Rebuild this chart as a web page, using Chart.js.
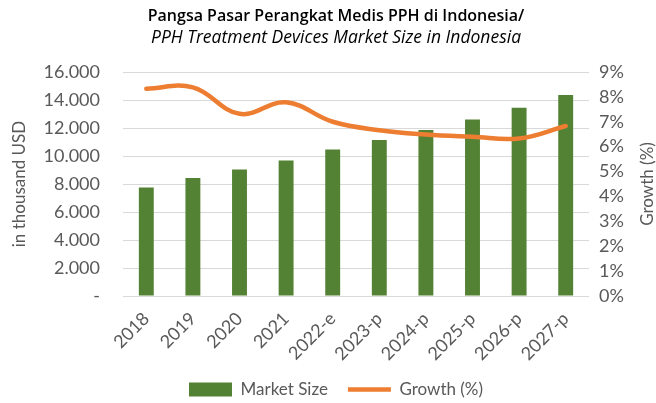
<!DOCTYPE html>
<html>
<head>
<meta charset="utf-8">
<script src="https://cdn.jsdelivr.net/npm/chart.js@4.4.1/dist/chart.umd.min.js"></script>
<style>
  html, body { margin: 0; padding: 0; background: #ffffff; }
  #wrap { width: 656px; height: 403px; position: relative; }
</style>
</head>
<body>
<div id="wrap"><canvas id="c" width="656" height="403"></canvas></div>
<script>
const categories = ['2018', '2019', '2020', '2021', '2022-e', '2023-p', '2024-p', '2025-p', '2026-p', '2027-p'];
const marketSize = [7750, 8420, 9030, 9680, 10460, 11140, 11860, 12610, 13450, 14360];
const growthPct = [8.33, 8.38, 7.32, 7.78, 7.0, 6.66, 6.49, 6.4, 6.33, 6.83];
const titleLine1 = 'Pangsa Pasar Perangkat Medis PPH di Indonesia/';
const titleLine2 = 'PPH Treatment Devices Market Size in Indonesia';
const leftAxisTitle = 'in thousand USD';
const rightAxisTitle = 'Growth (%)';

const FONT = 'Lato, "Noto Sans", sans-serif';
const TFONT = '"Open Sans", Lato, sans-serif';
const GREY = '#595959';

const rightTitlePlugin = {
  id: 'rightTitle',
  afterDraw(chart) {
    const s = chart.scales.y1;
    const ctx = chart.ctx;
    ctx.save();
    ctx.translate(648, (s.top + s.bottom) / 2);
    ctx.rotate(-Math.PI / 2);
    ctx.font = '17px ' + FONT;
    ctx.fillStyle = GREY;
    ctx.textAlign = 'center';
    ctx.textBaseline = 'middle';
    ctx.fillText(rightAxisTitle, 0, 0);
    ctx.restore();
  }
};

new Chart(document.getElementById('c'), {
  data: {
    labels: categories,
    datasets: [
      {
        type: 'bar',
        label: 'Market Size',
        data: marketSize,
        backgroundColor: '#548235',
        borderWidth: 0,
        yAxisID: 'y',
        order: 1,
        categoryPercentage: 1,
        barPercentage: 0.32,
        pointStyle: 'rect'
      },
      {
        type: 'line',
        label: 'Growth (%)',
        data: growthPct,
        borderColor: '#ED7D31',
        backgroundColor: '#ED7D31',
        borderWidth: 4.5,
        borderCapStyle: 'round',
        tension: 0.4,
        pointRadius: 0,
        pointHoverRadius: 0,
        yAxisID: 'y1',
        order: 0,
        pointStyle: 'line'
      }
    ]
  },
  options: {
    responsive: false,
    animation: false,
    layout: { padding: { left: 16, right: 0, top: 0, bottom: -5 } },
    plugins: {
      title: {
        display: true,
        text: titleLine1,
        color: '#000000',
        font: { family: TFONT, size: 16, weight: '600', lineHeight: '22px' },
        padding: { top: 5, bottom: 0 }
      },
      subtitle: {
        display: true,
        text: titleLine2,
        color: '#000000',
        font: { family: TFONT, size: 17.5, style: 'italic', lineHeight: '22px' },
        padding: { top: 0, bottom: 23 }
      },
      legend: {
        position: 'bottom',
        labels: {
          usePointStyle: true,
          pointStyleWidth: 43,
          boxHeight: 14,
          color: GREY,
          font: { family: FONT, size: 17 },
          padding: 20,
          sort: (a, b) => a.datasetIndex - b.datasetIndex
        }
      },
      tooltip: { enabled: false }
    },
    scales: {
      x: {
        grid: { display: false },
        border: { display: false },
        ticks: {
          color: GREY,
          font: { family: FONT, size: 18 },
          minRotation: 45,
          maxRotation: 45,
          padding: 4
        },
        afterFit: s => { s.height = 65; }
      },
      y: {
        position: 'left',
        min: 0,
        max: 16000,
        grid: { color: '#D9D9D9', lineWidth: 1, drawTicks: false },
        border: { display: false },
        ticks: {
          stepSize: 2000,
          color: GREY,
          font: { family: FONT, size: 18 },
          padding: 23,
          callback: v => v === 0 ? '-' : String(v).replace(/\B(?=(\d{3})+(?!\d))/g, '.')
        },
        title: {
          display: true,
          text: leftAxisTitle,
          color: GREY,
          font: { family: FONT, size: 17 },
          padding: { top: -7, bottom: 0 }
        },
        afterFit: s => { s.width = 107; }
      },
      y1: {
        position: 'right',
        min: 0,
        max: 9,
        grid: { drawOnChartArea: false, drawTicks: false },
        border: { display: false },
        ticks: {
          stepSize: 1,
          color: GREY,
          font: { family: FONT, size: 18 },
          padding: 10,
          callback: v => v + '%'
        },
        afterFit: s => { s.width = 67; }
      }
    }
  },
  plugins: [rightTitlePlugin]
});
</script>
</body>
</html>
